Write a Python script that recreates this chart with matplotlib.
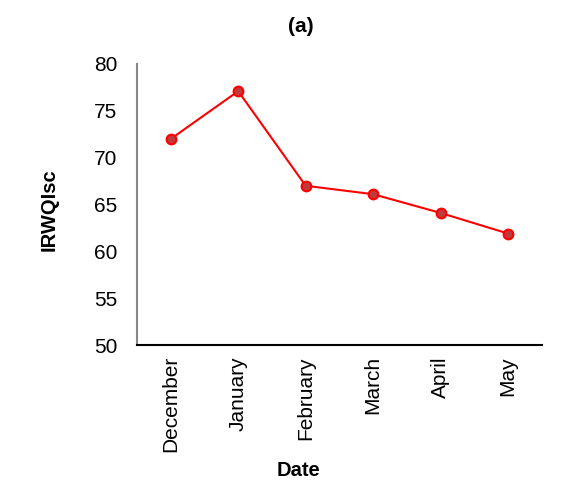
import matplotlib
matplotlib.use("Agg")
import matplotlib.pyplot as plt

months = ["December", "January", "February", "March", "April", "May"]
irwqi = [72.0, 77.1, 67.0, 66.1, 64.1, 61.9]
yticks = [50, 55, 60, 65, 70, 75, 80]

plt.rcParams['font.family'] = ['Liberation Sans', 'DejaVu Sans']

fig = plt.figure(figsize=(5.62, 4.8), dpi=100)
ax = fig.add_axes([0.2438, 0.28125, 0.7202, 0.58542])
x = list(range(len(months)))
ax.plot(x, irwqi, color='#ff0000', lw=1.5, marker='o', markersize=7,
        markerfacecolor='#c0393b', markeredgecolor='#ff0000', markeredgewidth=1.5)
ax.set_xlim(-0.5, 5.5)
ax.set_ylim(50, 80)
ax.set_yticks(yticks)
ax.set_xticks(x)
ax.set_xticklabels(months, rotation=90, fontsize=15)
ax.tick_params(axis='y', labelsize=15, length=0, pad=14)
ax.tick_params(axis='x', length=0, pad=8)
for s in ['top', 'right']:
    ax.spines[s].set_visible(False)
ax.spines['left'].set_color('#888888')
ax.spines['left'].set_linewidth(1.5)
ax.spines['bottom'].set_color('black')
ax.spines['bottom'].set_linewidth(1.5)
fig.text(49 / 562, 1 - 210 / 480, "IRWQIsc", rotation=90, ha='center', va='center',
         fontsize=14.5, fontweight='bold')
fig.text(298 / 562, 1 - 470 / 480, "Date", ha='center', va='center',
         fontsize=14.5, fontweight='bold')
fig.text(301 / 562, 1 - 26 / 480, "(a)", ha='center', va='center', fontsize=15, fontweight='bold')
fig.savefig("out.png", dpi=100)
